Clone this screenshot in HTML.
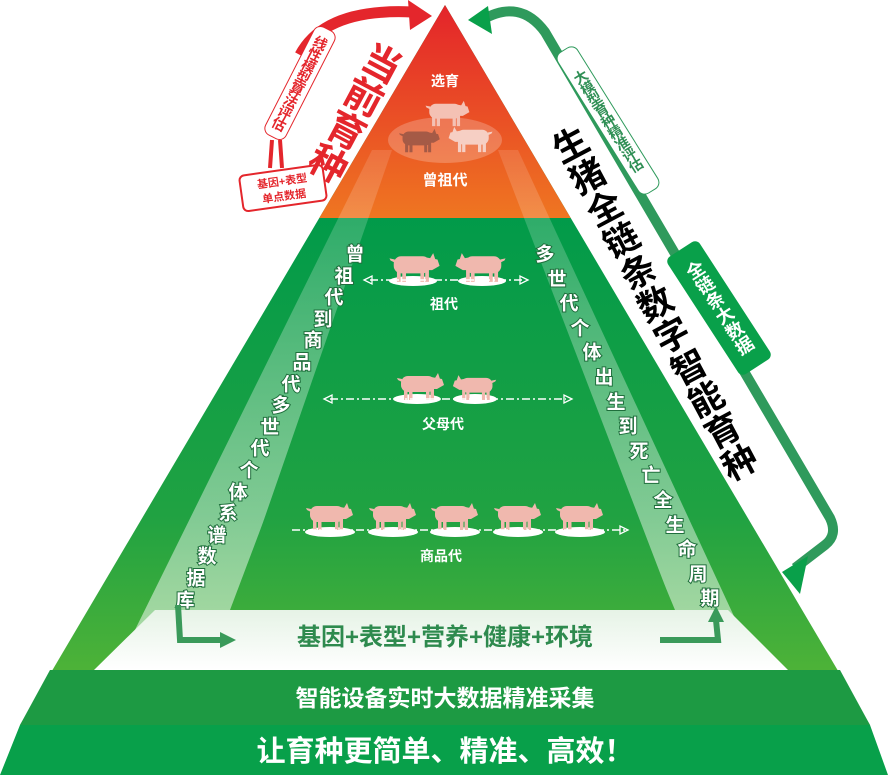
<!DOCTYPE html>
<html><head><meta charset="utf-8"><style>
html,body{margin:0;padding:0;background:#fff}
#w{position:relative;width:888px;height:775px;overflow:hidden;font-family:"Liberation Sans","Noto Sans CJK SC",sans-serif}
.r{position:absolute;writing-mode:vertical-rl;text-orientation:upright;font-weight:bold;text-align:center;white-space:nowrap}
</style></head><body><div id="w">
<svg width="888" height="775" viewBox="0 0 888 775" style="position:absolute;left:0;top:0">
<defs>
<linearGradient id="gG" gradientUnits="userSpaceOnUse" x1="0" y1="200" x2="0" y2="725"><stop offset="0" stop-color="#009a4a"/><stop offset="0.6" stop-color="#20a242"/><stop offset="1" stop-color="#5db834"/></linearGradient>
<linearGradient id="gO" gradientUnits="userSpaceOnUse" x1="0" y1="10" x2="0" y2="218"><stop offset="0" stop-color="#e4262a"/><stop offset="1" stop-color="#ef7621"/></linearGradient>
<linearGradient id="gS" gradientUnits="userSpaceOnUse" x1="0" y1="150" x2="0" y2="640"><stop offset="0" stop-color="#fff" stop-opacity="0.2"/><stop offset="1" stop-color="#fff" stop-opacity="0.9"/></linearGradient>
<linearGradient id="gW" x1="0" y1="0" x2="0" y2="1"><stop offset="0" stop-color="#e6f3e6"/><stop offset="1" stop-color="#ffffff"/></linearGradient>
<clipPath id="top"><rect x="0" y="0" width="888" height="218"/></clipPath>
<symbol id="pig" viewBox="0 0 50 30"><rect x="6" y="4" width="34" height="16" rx="7" /><polygon points="36,5 47,7 49,13 42,17 36,17"/><polygon points="40,6 43,1 45,7"/><rect x="9" y="15" width="3.5" height="13"/><rect x="14" y="15" width="3.5" height="13"/><rect x="31" y="15" width="3.5" height="13"/><rect x="35.5" y="15" width="3.5" height="13"/><polygon points="7,7 2,6 3,8 7,10"/></symbol>
</defs>
<polygon points="445,5 870,725 20,725" fill="url(#gG)"/>
<polygon points="445,5 870,725 20,725" fill="url(#gO)" clip-path="url(#top)"/>
<!-- strips -->
<polygon points="372,150 392,150 232,612 150,620 130,640" fill="url(#gS)" opacity="0.6"/>
<polygon points="498,150 518,150 745,640 725,620 675,612" fill="url(#gS)" opacity="0.6"/>
<polygon points="378,218 512,218 675,610 230,610" fill="url(#gG)"/>
<polygon points="155,610 728,610 788,670 94,670" fill="url(#gW)"/>
<polygon points="50,670 840,670 870,725 20,725" fill="#1d9a43"/>
<polygon points="20,725 870,725 888,775 0,775" fill="#08a04a"/>
<ellipse cx="445" cy="140" rx="57" ry="23" fill="#fff" fill-opacity="0.22"/>
<use href="#pig" x="423" y="100" width="48" height="28" fill="#f4c1b4"/>
<use href="#pig" x="396" y="128" width="46" height="26" fill="#a55a46"/>
<use href="#pig" x="447" y="126" width="48" height="28" fill="#f6cfc4" transform="translate(942,0) scale(-1,1)"/>
<text x="445" y="86" fill="#fff" font-size="14" font-weight="bold" text-anchor="middle">选育</text>
<text x="445" y="185" fill="#fff" font-size="15" font-weight="bold" text-anchor="middle">曾祖代</text>
<g fill="#fff">
<ellipse cx="413" cy="281" rx="24" ry="5"/><ellipse cx="482" cy="281" rx="24" ry="5"/>
<ellipse cx="417" cy="399" rx="24" ry="5"/><ellipse cx="475" cy="399" rx="22" ry="5"/>
<ellipse cx="330" cy="532" rx="25" ry="5"/><ellipse cx="393" cy="532" rx="25" ry="5"/><ellipse cx="455" cy="532" rx="25" ry="5"/><ellipse cx="518" cy="532" rx="25" ry="5"/><ellipse cx="580" cy="532" rx="25" ry="5"/>
</g>
<g fill="#f0b8ae">
<use href="#pig" x="386" y="252" width="56" height="32"/>
<use href="#pig" x="454" y="252" width="54" height="32" transform="translate(962,0) scale(-1,1)"/>
<use href="#pig" x="392" y="372" width="56" height="30"/>
<use href="#pig" x="452" y="374" width="46" height="28" transform="translate(950,0) scale(-1,1)"/>
<use href="#pig" x="303" y="502" width="52" height="30"/>
<use href="#pig" x="366" y="502" width="52" height="30"/>
<use href="#pig" x="428" y="502" width="52" height="30"/>
<use href="#pig" x="491" y="502" width="52" height="30"/>
<use href="#pig" x="553" y="502" width="52" height="30"/>
</g>
<g stroke="#fff" stroke-width="1.5" stroke-dasharray="8,3,2,3" fill="none">
<line x1="370" y1="280" x2="522" y2="280"/><line x1="330" y1="399" x2="566" y2="399"/><line x1="292" y1="530" x2="628" y2="530"/>
</g>
<g stroke="#fff" stroke-width="1.3" fill="none">
<polygon points="364,280 372,276 372,284"/><polygon points="528,280 520,276 520,284"/>
<polygon points="324,399 332,395 332,403"/><polygon points="572,399 564,395 564,403"/>
<polygon points="628,530 620,526 620,534"/>
</g>
<g fill="#fff" font-size="14" font-weight="bold" text-anchor="middle">
<text x="444" y="309">祖代</text><text x="443" y="429">父母代</text><text x="441" y="561">商品代</text>
</g>
<g fill="#fff" font-size="19" font-weight="bold" text-anchor="middle" dominant-baseline="central" stroke="#1f6e3c" stroke-width="2" paint-order="stroke">
<text x="355" y="255">曾</text><text x="344" y="277">祖</text><text x="334" y="298">代</text><text x="323" y="320">到</text><text x="313" y="341">商</text><text x="302" y="363">品</text><text x="291" y="385">代</text><text x="281" y="406">多</text><text x="270" y="428">世</text><text x="260" y="449">代</text><text x="249" y="471">个</text><text x="238" y="493">体</text><text x="228" y="514">系</text><text x="217" y="536">谱</text><text x="207" y="557">数</text><text x="196" y="579">据</text><text x="185" y="601">库</text>
<text x="545" y="255">多</text><text x="557" y="280">世</text><text x="569" y="304">代</text><text x="580" y="329">个</text><text x="592" y="353">体</text><text x="604" y="378">出</text><text x="616" y="403">生</text><text x="628" y="427">到</text><text x="639" y="452">死</text><text x="651" y="476">亡</text><text x="663" y="501">全</text><text x="675" y="526">生</text><text x="687" y="550">命</text><text x="698" y="575">周</text><text x="710" y="599">期</text>
</g>
<path d="M178,605 L180,640 L222,640" stroke="#3a9a5a" stroke-width="6" fill="none"/>
<polygon points="220,632 236,640 220,648" fill="#3a9a5a"/>
<path d="M660,640 L718,640 L716,620" stroke="#3a9a5a" stroke-width="6" fill="none"/>
<polygon points="708,622 716,606 724,622" fill="#3a9a5a"/>
<text x="445" y="645" fill="#2e8a4e" font-size="24" font-weight="bold" text-anchor="middle">基因+表型+营养+健康+环境</text>
<text x="445" y="706" fill="#fff" font-size="23" font-weight="bold" text-anchor="middle">智能设备实时大数据精准采集</text>
<text x="445" y="761" fill="#fff" font-size="29" font-weight="bold" text-anchor="middle">让育种更简单、精准、高效！</text>
<path d="M482,20 Q520,-2 545,32 L830,518 Q838,535 825,545 L795,568" stroke="#2f9a5c" stroke-width="10" fill="none"/>
<polygon points="468,20 488,6 492,34" fill="#09a04a"/>
<polygon points="782,572 808,556 800,594" fill="#09a04a"/>
<path d="M300,55 Q325,8 412,12" stroke="#e4262c" stroke-width="11" fill="none"/>
<polygon points="408,0 432,16 410,30" fill="#e4262c"/>
<path d="M272,140 L270,168 M280,140 L282,168" stroke="#e4262c" stroke-width="4" fill="none"/>
<g transform="translate(283,188) rotate(-8)">
<rect x="-42" y="-18" width="84" height="36" rx="5" fill="#fff" stroke="#e4262c" stroke-width="2"/>
<text x="0" y="-3" font-size="11" font-weight="bold" fill="#e4262c" text-anchor="middle">基因+表型</text>
<text x="0" y="12" font-size="11" font-weight="bold" fill="#e4262c" text-anchor="middle">单点数据</text>
</g>
</svg>
<div class="r" style="left:288px;top:22px;width:22px;height:120px;line-height:22px;font-size:14px;color:#e4262c;border:1.5px solid #e4262c;border-radius:8px;background:#fff;transform:rotate(27deg);letter-spacing:-1px">线性模型算法评估</div>
<div class="r" style="left:330px;top:35px;width:44px;height:150px;line-height:44px;font-size:38px;color:#e4262c;transform:rotate(28deg)">当前育种</div>
<div class="r" style="left:596px;top:37px;width:22px;height:165px;line-height:22px;font-size:14px;color:#2f8f55;border:1.5px solid #2f9a5c;border-radius:8px;background:#fff;transform:rotate(-32deg);letter-spacing:-1px">大模型育种精准评估</div>
<div class="r" style="left:631px;top:105px;width:42px;height:400px;line-height:42px;font-size:35px;color:#000;transform:rotate(-28deg);letter-spacing:1px">生猪全链条数字智能育种</div>
<div class="r" style="left:700px;top:238px;width:38px;height:140px;line-height:38px;font-size:18px;color:#fff;background:#09a04a;border-radius:6px;transform:rotate(-33deg)">全链条大数据</div>
</div></body></html>
